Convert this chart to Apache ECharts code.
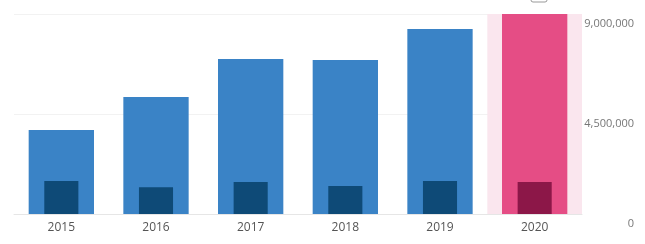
<!DOCTYPE html>
<html><head><meta charset="utf-8">
<script src="https://cdn.jsdelivr.net/npm/echarts@6/dist/echarts.min.js"></script>
<style>html,body{margin:0;padding:0;background:#fff}#c{width:645px;height:244px}</style>
</head><body><div id="c"></div>
<script>
var categories = ['2015','2016','2017','2018','2019','2020'];
var totalValues = [3780000, 5270000, 6980000, 6930000, 8330000, 9000000];
var innerValues = [1490000, 1200000, 1440000, 1260000, 1490000, 1440000];
var highlightValues = [null, null, null, null, null, 9000000];
var yTicks = [0, 4500000, 9000000];

var chart = echarts.init(document.getElementById('c'));
var font = '"Open Sans", "Noto Sans", sans-serif';
chart.setOption({
  animation: false,
  grid: {left: 14, right: 63, top: 14, bottom: 30},
  xAxis: [
    {type: 'category', data: categories,
     axisLine: {lineStyle: {color: '#e6e6e6'}},
     axisTick: {alignWithLabel: true, length: 5, lineStyle: {color: '#555'}},
     axisLabel: {color: '#555', fontSize: 12, fontFamily: font, margin: 8}},
    {type: 'category', data: categories, show: false},
    {type: 'category', data: categories, show: false}
  ],
  yAxis: {
    type: 'value', position: 'right', min: yTicks[0], max: yTicks[2], interval: yTicks[1],
    axisLine: {show: false}, axisTick: {show: false},
    splitLine: {lineStyle: {color: '#f2f2f2'}},
    axisLabel: {color: '#777', fontSize: 11, fontFamily: font, align: 'right', margin: 52,
      verticalAlign: 'top', padding: [4,0,0,0],
      formatter: function(v){ return v.toLocaleString('en-US'); }}
  },
  series: [
    {type: 'bar', xAxisIndex: 2, data: highlightValues, barWidth: '100%',
     itemStyle: {color: '#fae6ee'}, silent: true, z: 1},
    {type: 'bar', xAxisIndex: 0, data: totalValues, barWidth: '69%', z: 2,
     itemStyle: {color: function(p){ return p.dataIndex === 5 ? '#e54d85' : '#3a83c6'; }}},
    {type: 'bar', xAxisIndex: 1, data: innerValues, barWidth: '36%', z: 3,
     itemStyle: {color: function(p){ return p.dataIndex === 5 ? '#8c1748' : '#0e4a77'; }}}
  ],
  graphic: [{type: 'rect', shape: {x: 531, y: -10, width: 16, height: 12, r: 2},
    style: {fill: '#fff', stroke: '#999', lineWidth: 1}}]
});
</script></body></html>
